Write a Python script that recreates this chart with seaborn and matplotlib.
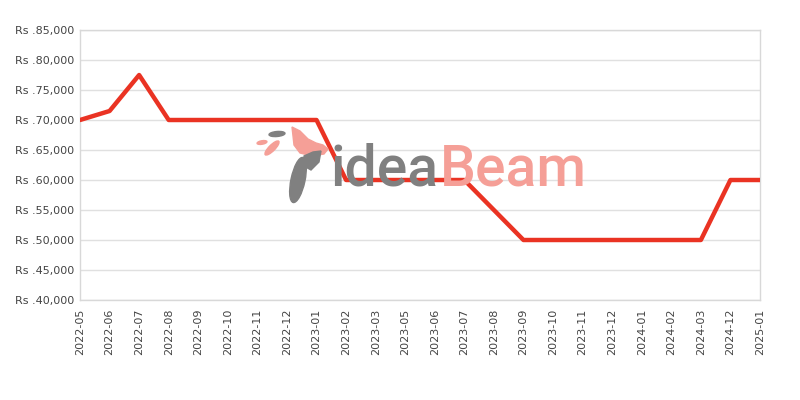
import matplotlib
matplotlib.use("Agg")
import matplotlib.pyplot as plt
import seaborn as sns
import pandas as pd
from matplotlib.patches import Ellipse, Polygon

months = ["2022-05", "2022-06", "2022-07", "2022-08", "2022-09", "2022-10", "2022-11", "2022-12",
          "2023-01", "2023-02", "2023-03", "2023-05", "2023-06", "2023-07", "2023-08", "2023-09",
          "2023-10", "2023-11", "2023-12", "2024-01", "2024-02", "2024-03", "2024-12", "2025-01"]
prices = [69999, 71499, 77499, 69999, 69999, 69999, 69999, 69999,
          69999, 59999, 59999, 59999, 59999, 59999, 54999, 49999,
          49999, 49999, 49999, 49999, 49999, 49999, 59999, 59999]
y_ticks = [40000, 45000, 50000, 55000, 60000, 65000, 70000, 75000, 80000, 85000]

df = pd.DataFrame({"month": months, "price": prices})

sns.set_theme(style="white")
plt.rcParams['font.family'] = ['DejaVu Sans']

fig = plt.figure(figsize=(8, 4), dpi=100)
ax = fig.add_axes([0.1, 0.25, 0.85, 0.675])

GRAY = "#808080"
PINK = "#f59f97"
tr = fig.dpi_scale_trans


def P(x, y):
    # pixel (from top-left) -> inches
    return (x / 100.0, (400 - y) / 100.0)


# watermark logo
fig.text(0.4125, 0.5375, "idea", fontsize=41, color=GRAY, fontweight="medium",
         ha="left", va="baseline", zorder=0, family=["Roboto", "DejaVu Sans"])
fig.text(0.55, 0.5375, "Beam", fontsize=41, color=PINK, fontweight="medium",
         ha="left", va="baseline", zorder=0, family=["Roboto", "DejaVu Sans"])

shapes = [
    Ellipse(P(277, 134), 16 / 100, 5 / 100, angle=5, transform=tr, color=GRAY),
    Ellipse(P(262, 142.5), 10 / 100, 3.5 / 100, angle=10, transform=tr, color=PINK),
    Ellipse(P(272, 148), 19 / 100, 6 / 100, angle=45, transform=tr, color=PINK),
    Polygon([P(292, 127), P(300, 131), P(308, 139), P(316, 143), P(323, 145), P(328, 149),
             P(324, 154), P(312, 156), P(300, 153), P(294, 145)], closed=True,
            transform=tr, color=PINK),
    Polygon([P(304, 156), P(313, 152), P(321, 151), P(319, 162), P(311, 170), P(304, 166)],
            closed=True, transform=tr, color=GRAY),
    Ellipse(P(298, 180), 14 / 100, 46 / 100, angle=-12, transform=tr, color=GRAY),
]
for s in shapes:
    s.set_zorder(0)
    fig.patches.append(s)

ax.set_facecolor("none")
sns.lineplot(data=df, x="month", y="price", ax=ax, color="#ea3323", linewidth=3.2,
             sort=False, zorder=3)

ax.set_xlim(0, len(months) - 1)
ax.set_ylim(40000, 85000)
ax.set_yticks(y_ticks)
ax.set_yticklabels([f"Rs .{v:,}" for v in y_ticks])
ax.set_xticks(range(len(months)))
ax.set_xticklabels(months, rotation=90)
ax.set_xlabel("")
ax.set_ylabel("")
ax.yaxis.grid(True, color="#e0e0e0", linewidth=1)
ax.xaxis.grid(False)
for s in ax.spines.values():
    s.set_color("#d8d8d8")
    s.set_linewidth(1)
ax.tick_params(axis="both", labelsize=8, colors="#444444", length=0, pad=4)
ax.tick_params(axis="x", pad=6)

fig.savefig("out.png", dpi=100)
